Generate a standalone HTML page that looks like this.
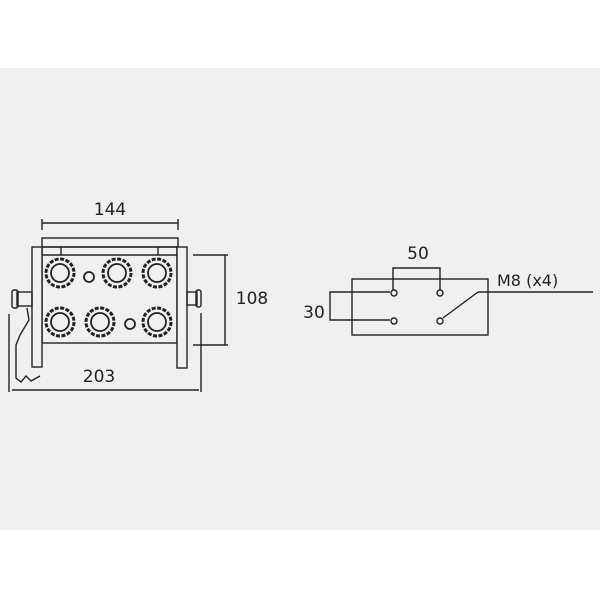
<!DOCTYPE html>
<html><head><style>
html,body{margin:0;padding:0;background:#fff;}
svg{display:block}
text{font-family:"DejaVu Sans","Liberation Sans",sans-serif;fill:#222}
</style></head><body>
<svg width="600" height="600" viewBox="0 0 600 600">
<rect x="0" y="0" width="600" height="600" fill="#fff"/>
<rect x="0" y="68" width="600" height="462" fill="#f0f0f0"/>
<g stroke="#222" stroke-width="1.4" fill="none">
<line x1="42" y1="223" x2="178" y2="223"/>
<line x1="42" y1="219" x2="42" y2="230"/>
<line x1="178" y1="219" x2="178" y2="230"/>
<rect x="42" y="238" width="136" height="9"/>
<rect x="42" y="247" width="135" height="96"/>
<line x1="42" y1="255" x2="177" y2="255"/>
<line x1="61" y1="247" x2="61" y2="255"/>
<line x1="158" y1="247" x2="158" y2="255"/>
<rect x="32" y="247" width="10" height="120" fill="#f0f0f0"/>
<rect x="177" y="247" width="10" height="121" fill="#f0f0f0"/>
<g stroke-width="3" stroke-dasharray="4 1.5">
<circle cx="60" cy="273" r="14"/><circle cx="117" cy="273" r="14"/><circle cx="157" cy="273" r="14"/>
<circle cx="60" cy="322" r="14"/><circle cx="100" cy="322" r="14"/><circle cx="157" cy="322" r="14"/>
</g>
<g stroke-width="1.8">
<circle cx="60" cy="273" r="9"/><circle cx="117" cy="273" r="9"/><circle cx="157" cy="273" r="9"/>
<circle cx="60" cy="322" r="9"/><circle cx="100" cy="322" r="9"/><circle cx="157" cy="322" r="9"/>
<circle cx="89" cy="277" r="5"/><circle cx="130" cy="324" r="5"/>
</g>
<rect x="17" y="292" width="15" height="14"/>
<rect x="12" y="290" width="6" height="18" rx="2"/>
<rect x="187" y="292" width="10" height="13"/>
<rect x="196" y="290" width="5" height="17" rx="2"/>
<polyline points="27,308 29,320 20,335 16,345 16,378 21,382 26,376 31,381 40,376"/>
<line x1="193" y1="255" x2="228" y2="255"/>
<line x1="193" y1="345" x2="228" y2="345"/>
<line x1="225" y1="255" x2="225" y2="345"/>
<line x1="12" y1="390" x2="199" y2="390"/>
<line x1="9" y1="314" x2="9" y2="392"/>
<line x1="201" y1="313" x2="201" y2="392"/>
<rect x="352" y="279" width="136" height="56"/>
<polyline points="393,290 393,268 440,268 440,290"/>
<circle cx="394" cy="293" r="3"/><circle cx="440" cy="293" r="3"/>
<circle cx="394" cy="321" r="3"/><circle cx="440" cy="321" r="3"/>
<line x1="443" y1="318" x2="478" y2="292"/>
<line x1="478" y1="292" x2="593" y2="292"/>
<polyline points="390,292 330,292 330,320 390,320"/>
</g>
<text x="110" y="215" font-size="17" text-anchor="middle">144</text>
<text x="252" y="304" font-size="17" text-anchor="middle">108</text>
<text x="99" y="382" font-size="17" text-anchor="middle">203</text>
<text x="418" y="259" font-size="17" text-anchor="middle">50</text>
<text x="314" y="318" font-size="17" text-anchor="middle">30</text>
<text x="497" y="286" font-size="16">M8  (x4)</text>
</svg>
</body></html>
